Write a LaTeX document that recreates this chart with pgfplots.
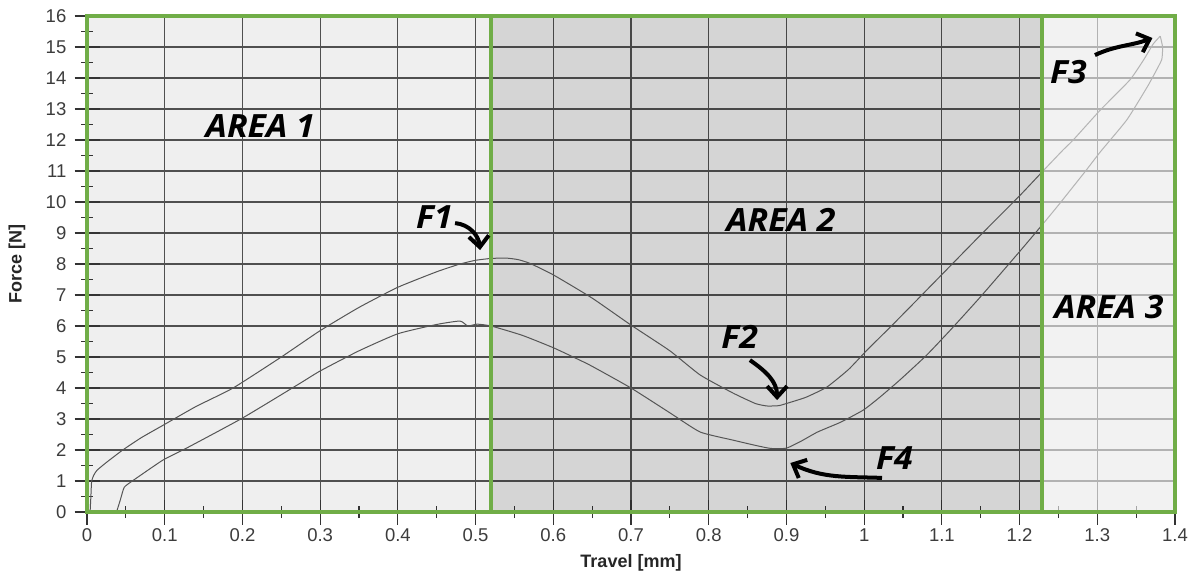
\documentclass[border=0pt]{standalone}
\usepackage{fontspec}
\setmainfont{Liberation Sans}
\newfontfamily\annfont{Open Sans}
\usepackage{pgfplots}
\pgfplotsset{compat=1.18}
\usetikzlibrary{arrows.meta}
\definecolor{agreen}{RGB}{112,173,71}
\definecolor{bgc}{RGB}{239,239,239}
\definecolor{gridc}{RGB}{80,80,80}
\definecolor{curvec}{RGB}{85,85,85}
\definecolor{ticklab}{RGB}{60,60,60}
\definecolor{a3c}{RGB}{244,244,244}

\pgfplotstableread{
x y
0.004 0
0.005 0.5
0.006 1.0
0.009 1.2
0.013 1.35
0.025 1.6
0.046 2.0
0.07 2.4
0.098 2.8
0.14 3.4
0.188 4.0
0.25 5.0
0.3 5.85
0.35 6.6
0.4 7.25
0.45 7.75
0.48 8.0
0.5 8.12
0.52 8.18
0.54 8.19
0.555 8.14
0.57 8.02
0.6 7.65
0.65 6.9
0.7 6.03
0.75 5.2
0.789 4.42
0.831 3.84
0.86 3.5
0.875 3.42
0.89 3.43
0.9 3.5
0.925 3.7
0.952 4.03
0.98 4.6
1.004 5.23
1.035 6.0
1.068 6.84
1.1 7.66
1.15 8.94
1.2 10.2
1.229 10.97
1.256 11.68
1.269 12.0
1.304 12.97
1.342 13.94
1.36 14.6
1.372 15.1
1.381 15.35
}\loading

\pgfplotstableread{
x y
1.381 15.35
1.384 15.0
1.383 14.6
1.375 14.2
1.364 13.7
1.338 12.65
1.304 11.62
1.284 10.97
1.25 9.9
1.229 9.26
1.2 8.4
1.15 6.95
1.111 5.87
1.08 5.05
1.046 4.26
1.02 3.7
0.999 3.29
0.97 2.9
0.94 2.58
0.92 2.3
0.9 2.06
0.88 2.05
0.86 2.15
0.831 2.32
0.789 2.58
0.75 3.2
0.7 4.0
0.65 4.7
0.634 4.9
0.6 5.3
0.56 5.7
0.52 6.0
0.502 6.06
0.49 6.0
0.48 6.16
0.45 6.05
0.4 5.75
0.35 5.2
0.3 4.55
0.274 4.15
0.2 3.03
0.128 2.06
0.098 1.68
0.06 1.03
0.048 0.8
0.043 0.4
0.038 0
}\unloading

\begin{document}
\begin{tikzpicture}
\begin{axis}[
  width=1088pt, height=496pt, scale only axis,
  xmin=0, xmax=1.4, ymin=0, ymax=16,
  xtick={0,0.1,0.2,0.3,0.4,0.5,0.6,0.7,0.8,0.9,1,1.1,1.2,1.3,1.4},
  ytick={0,1,...,16},
  minor x tick num=1, minor y tick num=1,
  tick pos=left,
  tick align=center,
  major tick length=25pt, minor tick length=12pt,
  tick style={color=black!80, line width=1.2pt},
  grid=major,
  major grid style={color=gridc, line width=1.2pt},
  axis line style={draw=none},
  axis background/.style={fill=bgc},
  clip=false,
  /pgf/number format/assume math mode=true,
  /pgf/number format/fixed,
  tick label style={font=\fontsize{18.5}{21}\selectfont, text=ticklab},
  xticklabel style={anchor=north, inner sep=0pt, yshift=-4pt},
  yticklabel style={anchor=east, inner sep=0pt, xshift=-8pt},
  xlabel={Travel [mm]},
  ylabel={Force [N]},
  label style={font=\fontsize{18}{21}\selectfont\bfseries, text=black!85},
  xlabel style={at={(axis description cs:0.5,-0.1028)}, anchor=center},
  ylabel style={at={(axis description cs:-0.0643,0.5)}, anchor=center},
]
% area 2 shading
\fill[black, opacity=0.105] (0.52,0) rectangle (1.229,16);

\addplot[curvec, line width=1pt, smooth, tension=0.3] table {\loading};
\addplot[curvec, line width=1pt, smooth, tension=0.3] table {\unloading};

% area 3 light overlay
\fill[a3c, opacity=0.6] (1.229,0) rectangle (1.4,16);

% area boxes
\draw[agreen, line width=4pt] (0,0) rectangle (0.52,16);
\draw[agreen, line width=4pt] (0.52,0) rectangle (1.229,16);
\draw[agreen, line width=4pt] (1.229,0) rectangle (1.4,16);

% annotations
\begin{scope}[every node/.style={font=\annfont\bfseries\itshape\fontsize{32}{36}\selectfont, text=black, inner sep=0pt, xscale=1.06}]
\node at (0.223,12.45) {AREA 1};
\node at (0.893,9.42) {AREA 2};
\node at (1.315,6.6) {AREA 3};
\node at (0.447,9.5) {F1};
\node at (0.840,5.65) {F2};
\node at (1.263,14.2) {F3};
\node at (1.039,1.74) {F4};
\end{scope}

\begin{scope}[line width=4pt, black, -{Straight Barb[length=11pt,width=20pt]}]
\draw (0.4736,9.32) to[out=-5, in=95] (0.5058,8.45);
\draw (0.853,4.9) to[out=-35, in=90] (0.888,3.61);
\draw (1.297,14.74) to[out=25, in=200] (1.371,15.29);
\draw (1.023,1.10) to[out=178, in=-25] (0.905,1.58);
\end{scope}
\end{axis}
\pgfresetboundingbox
\path[use as bounding box] ([shift={(-87pt,-59pt)}]current axis.south west) rectangle ([shift={(17pt,16pt)}]current axis.north east);
\end{tikzpicture}
\end{document}
